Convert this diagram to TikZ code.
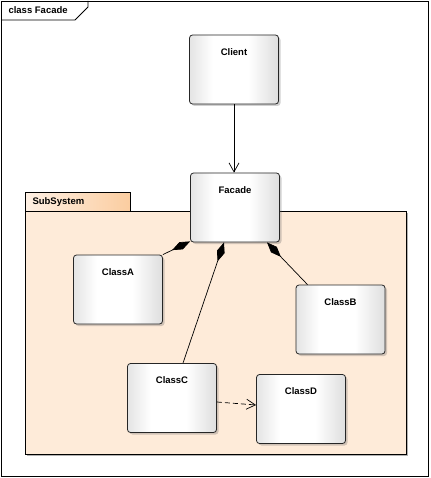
\documentclass[tikz,border=0pt]{standalone}
\usepackage{fontspec}
\setmainfont{Liberation Sans}
\usetikzlibrary{arrows.meta,shadows}
\definecolor{pkgbody}{HTML}{FEEBD9}
\definecolor{pkgtab}{HTML}{FBCDA0}
\definecolor{pkgtabl}{HTML}{FEF0E4}
\definecolor{boxgrayl}{HTML}{E4E4E4}
\definecolor{boxgrayr}{HTML}{DEDEDE}
\pgfdeclarehorizontalshading{clsshade}{100bp}{color(0bp)=(boxgrayl); color(25bp)=(boxgrayl); color(38bp)=(white); color(58bp)=(white); color(75bp)=(boxgrayr); color(100bp)=(boxgrayr)}
\tikzset{
  lbl/.style={font=\fontsize{9.5}{11}\selectfont\bfseries},
  cls/.style={draw=black!85, line width=0.8pt, rounded corners=3pt,
    minimum width=89pt, minimum height=69pt, inner sep=0pt,
    shading=clsshade,
    drop shadow={shadow xshift=2pt, shadow yshift=-2pt, opacity=0.3, fill=black!60},
    label={[lbl, anchor=north, yshift=-10pt]north:#1}},
  conn/.style={line width=0.7pt, black},
  comp/.style={conn, {Diamond[length=20pt,width=8pt]}-},
  nav/.style={conn, -{Straight Barb[length=9pt,width=10pt]}},
  dep/.style={conn, dashed, dash pattern=on 5pt off 3pt, -{Straight Barb[length=9pt,width=10pt]}}
}
\begin{document}
\begin{tikzpicture}[x=1pt, y=-1pt]
\useasboundingbox (0,0) rectangle (430,478);
% outer frame
\draw[line width=0.8pt, fill=white] (1,1) rectangle (428,476);
\draw[line width=0.8pt] (1,20) -- (75,20) -- (88,7) -- (88,1);
\node[lbl, anchor=west] (title) at (5,10.5) {class Facade};
% package
\fill[black!30] (27,213) rectangle (408,456);
\draw[line width=0.8pt, fill=pkgbody] (25,211) rectangle (406,454);
\shade[left color=pkgtabl, right color=pkgtab] (25,192) rectangle (130,211);
\draw[line width=0.8pt] (25,192) rectangle (130,211);
\node[lbl, anchor=west] (pkg) at (29,202) {SubSystem};
% classes
\node[cls=Client] (Client) at (234,69.5) {};
\node[cls=Facade] (Facade) at (235,207.5) {};
\node[cls=ClassA] (ClassA) at (118,289.5) {};
\node[cls=ClassB] (ClassB) at (340.5,319.5) {};
\node[cls=ClassC] (ClassC) at (172,398) {};
\node[cls=ClassD] (ClassD) at (301,409) {};
% connectors
\draw[nav] (Client.south) -- (Client.south |- Facade.north);
\draw[comp] ([yshift=1pt]Facade.south west) -- (ClassA.north east);
\draw[comp] ([xshift=-11pt]Facade.south) -- ([xshift=11pt]ClassC.north);
\draw[comp] ([xshift=32pt]Facade.south) -- ([xshift=-33pt]ClassB.north);
\draw[dep] ([yshift=-4pt]ClassC.east) -- ([yshift=4pt]ClassD.west);
\end{tikzpicture}
\end{document}
